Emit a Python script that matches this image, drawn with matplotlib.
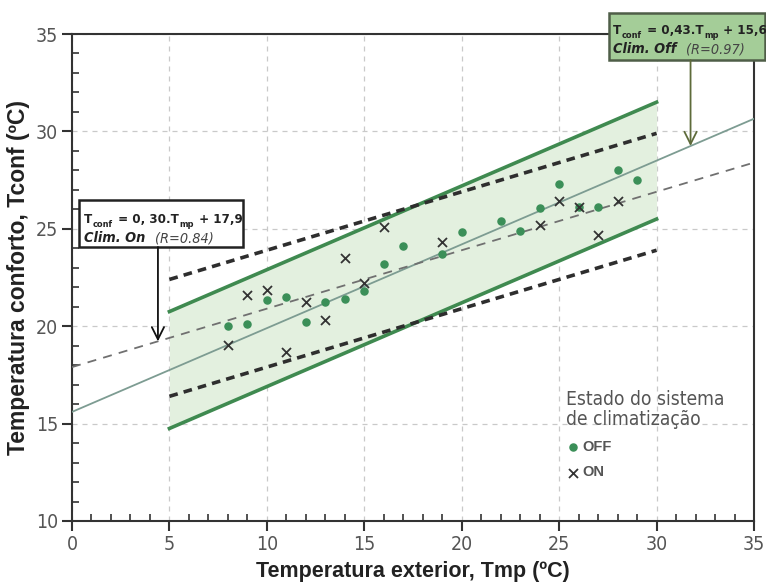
import numpy as np
import matplotlib
matplotlib.use("Agg")
import matplotlib.pyplot as plt
from matplotlib import font_manager
from matplotlib.font_manager import FontProperties
from matplotlib.patches import Rectangle
from matplotlib.ticker import MultipleLocator

# data
off_x = [8, 9, 10, 11, 12, 13, 14, 15, 16, 17, 19, 20, 22, 23, 24, 25, 26, 27, 28, 29]
off_y = [20.0, 20.1, 21.35, 21.5, 20.2, 21.25, 21.4, 21.8, 23.2, 24.1, 23.7, 24.85,
         25.4, 24.9, 26.05, 27.3, 26.1, 26.1, 28.0, 27.5]
on_x = [8, 9, 10, 11, 12, 13, 14, 15, 16, 19, 24, 25, 26, 27, 28]
on_y = [19.05, 21.6, 21.85, 18.7, 21.25, 20.3, 23.5, 22.2, 25.1, 24.3, 25.2, 26.45,
        26.1, 24.7, 26.45]

off_fit = (0.43, 15.6)   # slope, intercept (Clim. Off)
on_fit = (0.30, 17.9)    # slope, intercept (Clim. On)
band = 3.0               # +/- comfort band
band_range = (5, 30)


# look for a narrow/condensed sans face, otherwise use Liberation Sans
def find_narrow():
    cands = {}
    for f in font_manager.fontManager.ttflist:
        low = (f.name + " " + f.fname).lower()
        if ("narrow" in low or "condensed" in low or f.stretch in ("condensed", "semi-condensed")) \
                and "serif" not in low.replace("sans", "") and "mono" not in low:
            w = f.weight if isinstance(f.weight, int) else (700 if "bold" in str(f.weight) else 400)
            key = ("b" if w >= 600 else "r") + ("i" if f.style != "normal" else "")
            cands.setdefault(f.name, {}).setdefault(key, f.fname)
    for name, d in cands.items():
        if "r" in d:
            return d
    return None


nf = find_narrow()


def fp(size, bold=False, italic=False):
    if nf is not None:
        key = ("b" if bold else "r") + ("i" if italic else "")
        path = nf.get(key) or nf.get(key[0]) or nf["r"]
        return FontProperties(fname=path, size=size)
    return FontProperties(family="Liberation Sans", size=size * 0.88,
                          weight="bold" if bold else "normal",
                          style="italic" if italic else "normal")


plt.rcParams['font.family'] = ['Liberation Sans', 'DejaVu Sans']

fig = plt.figure(figsize=(7.66, 5.88), dpi=100)
ax = fig.add_axes([72 / 766, 1 - 521 / 588, 682 / 766, 487 / 588])


def line(fit, x):
    return fit[0] * np.asarray(x) + fit[1]


xs_full = np.array([0, 35])
xs_band = np.array(band_range)

# band shading
ax.fill_between(xs_band, line(off_fit, xs_band) - band, line(off_fit, xs_band) + band,
                color="#e3f0df", zorder=1, lw=0)

# band limits (off)
ax.plot(xs_band, line(off_fit, xs_band) + band, color="#3f8a50", lw=2.6, zorder=3)
ax.plot(xs_band, line(off_fit, xs_band) - band, color="#3f8a50", lw=2.6, zorder=3)
# band limits (on)
ax.plot(xs_band, line(on_fit, xs_band) + band, color="#2e2e2e", lw=2.6,
        linestyle=(0, (2.4, 1.7)), zorder=3)
ax.plot(xs_band, line(on_fit, xs_band) - band, color="#2e2e2e", lw=2.6,
        linestyle=(0, (2.4, 1.7)), zorder=3)

# regressions
ax.plot(xs_full, line(off_fit, xs_full), color="#7d9c92", lw=1.3, zorder=4)
ax.plot(xs_full, line(on_fit, xs_full), color="#707070", lw=1.3,
        linestyle=(0, (5, 4)), zorder=4)

# points
ax.scatter(off_x, off_y, s=26, color="#3b8f58", zorder=5, label="OFF")
ax.scatter(on_x, on_y, s=42, marker="x", color="#333333", linewidths=1.3, zorder=5,
           label="ON")

ax.set_xlim(0, 35)
ax.set_ylim(10, 35)
ax.xaxis.set_major_locator(MultipleLocator(5))
ax.yaxis.set_major_locator(MultipleLocator(5))
ax.xaxis.set_minor_locator(MultipleLocator(1))
ax.yaxis.set_minor_locator(MultipleLocator(1))
ax.tick_params(which="major", direction="out", length=7, width=1.5, color="#333333",
               labelcolor="#555555", pad=3)
ax.tick_params(which="minor", direction="in", length=5, width=1.2, color="#333333")
for lab in ax.get_xticklabels() + ax.get_yticklabels():
    lab.set_fontproperties(fp(14))

ax.grid(which="major", color="#c9c9c9", linestyle=(0, (4, 4)), lw=0.9)
ax.set_axisbelow(True)
for sp in ax.spines.values():
    sp.set_color("#333333")
    sp.set_linewidth(1.5)

ax.set_xlabel("Temperatura exterior, Tmp (ºC)", fontsize=15.5, fontweight="bold",
              color="#222222", labelpad=5)
ax.set_ylabel("Temperatura conforto, Tconf (ºC)", fontsize=16.5, fontweight="bold",
              color="#222222", labelpad=4)

# legend
leg = ax.legend(title="Estado do sistema\nde climatização", loc="upper left",
                bbox_to_anchor=(0.705, 0.296), frameon=False, alignment="left",
                handletextpad=0.1, handlelength=1.0, labelspacing=0.78,
                prop={"weight": "bold", "size": 10.5, "family": "Liberation Sans"},
                title_fontproperties=fp(13.8))
leg.get_title().set_color("#555555")
leg.get_title().set_linespacing(1.05)
for t in leg.get_texts():
    t.set_color("#555555")


def rich(x, y, pieces):
    # pieces: (text, fontprops, dy in points, color); x chained, y tied to first piece
    first = prev = None
    for s, prop, dy, col in pieces:
        if prev is None:
            first = prev = ax.text(x, y, s, fontproperties=prop, color=col, va="bottom",
                                   zorder=7, clip_on=False)
        else:
            prev = ax.annotate(s, xy=(1, 0), xycoords=(prev, first), xytext=(0.6, dy),
                               textcoords="offset points", fontproperties=prop,
                               color=col, va="bottom", zorder=7,
                               annotation_clip=False)


px = lambda x: (x - 72) / 19.5
py = lambda y: 10 + (521 - y) / 19.48

big, small, line2 = 9.5, 6.6, 10.4

# Clim. On box
ax.add_patch(Rectangle((px(79), py(247)), px(243) - px(79), py(200) - py(247),
                       facecolor="white", edgecolor="#222222", lw=1.8, zorder=6,
                       clip_on=False))
rich(px(84), py(226), [("T", fp(big, True), 0, "#222222"),
                        ("conf", fp(small, True), -2.0, "#222222"),
                        (" = 0, 30.T", fp(big, True), 0, "#222222"),
                        ("mp", fp(small, True), -2.0, "#222222"),
                        (" + 17,9", fp(big, True), 0, "#222222")])
rich(px(84), py(245), [("Clim. On  ", fp(line2, True, True), 0, "#222222"),
                        ("(R=0.84)", fp(line2, False, True), 0, "#444444")])
ax.annotate("", xy=(px(158), line(on_fit, px(158))), xytext=(px(158), py(247)),
            arrowprops=dict(arrowstyle="->", color="#111111", lw=1.3,
                            mutation_scale=22, shrinkA=0, shrinkB=0),
            zorder=6, annotation_clip=False)

# Clim. Off box
ax.add_patch(Rectangle((px(609), py(60)), px(766) - px(609), py(13) - py(60),
                       facecolor="#a4cd98", edgecolor="#4f5e48", lw=1.8, zorder=6,
                       clip_on=False))
rich(px(613), py(37), [("T", fp(big, True), 0, "#222222"),
                        ("conf", fp(small, True), -2.0, "#222222"),
                        (" = 0,43.T", fp(big, True), 0, "#222222"),
                        ("mp", fp(small, True), -2.0, "#222222"),
                        (" + 15,6", fp(big, True), 0, "#222222")])
rich(px(613), py(56), [("Clim. Off  ", fp(line2, True, True), 0, "#222222"),
                        ("(R=0.97)", fp(line2, False, True), 0, "#444444")])
ax.annotate("", xy=(px(691), line(off_fit, px(691))), xytext=(px(691), py(60)),
            arrowprops=dict(arrowstyle="->", color="#5e6b3a", lw=1.3,
                            mutation_scale=22, shrinkA=0, shrinkB=0),
            zorder=6, annotation_clip=False)

fig.savefig("out.png", dpi=100)
